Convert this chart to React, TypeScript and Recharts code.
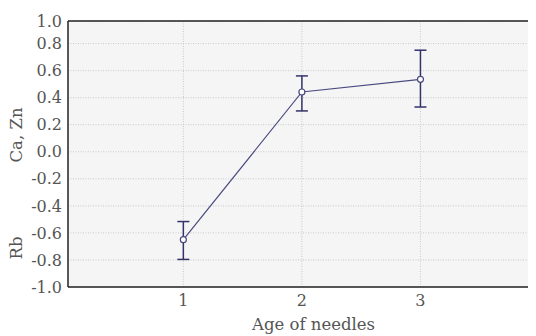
import React from "react";
import {
  LineChart,
  Line,
  XAxis,
  YAxis,
  CartesianGrid,
  ErrorBar,
  ReferenceLine,
  Customized,
} from "recharts";

// ---- data ----
const AGES = [1, 2, 3];
const MEANS = [-0.65, 0.442, 0.536];
const ERR_LOW = [0.146, 0.14, 0.205];
const ERR_HIGH = [0.134, 0.119, 0.215];

const X_TICKS = [1, 2, 3];
const Y_TOP = 0.967;
const Y_TICKS = [-1, -0.8, -0.6, -0.4, -0.2, 0, 0.2, 0.4, 0.6, 0.8, Y_TOP];
const Y_TICK_LABELS = ["-1.0", "-0.8", "-0.6", "-0.4", "-0.2", "0.0", "0.2", "0.4", "0.6", "0.8", "1.0"];

const X_LABEL = "Age of needles";
const Y_LABEL_TOP = "Ca, Zn";
const Y_LABEL_BOTTOM = "Rb";

const data = AGES.map((a, i) => ({
  age: a,
  value: MEANS[i],
  err: [ERR_LOW[i], ERR_HIGH[i]],
}));

const FONT = "'DejaVu Serif', serif";
const TEXT = "#555";
const LINE = "#4a4a80";
const ERRC = "#33336b";

// page coords minus the 8px body margin
const AxisTitles = () => (
  <g fontFamily={FONT} fontSize={16.5} fill={TEXT}>
    <text x={305.5} y={322} textAnchor="middle">
      {X_LABEL}
    </text>
    <text textAnchor="middle" transform="translate(14 127) rotate(-90)">
      {Y_LABEL_TOP}
    </text>
    <text textAnchor="middle" transform="translate(14 240) rotate(-90)">
      {Y_LABEL_BOTTOM}
    </text>
  </g>
);

const fmtY = (v: number) => {
  const i = Y_TICKS.findIndex((t) => Math.abs(t - v) < 1e-6);
  return i >= 0 ? Y_TICK_LABELS[i] : String(v);
};

export default function App() {
  return (
    <div style={{ width: 528, overflow: "hidden" }}>
      <LineChart
        width={531}
        height={328}
        data={data}
        margin={{ top: 13, right: 0, bottom: 0, left: 0 }}
      >
        <CartesianGrid
          fill="#f5f5f5"
          stroke="#c8c8c8"
          strokeDasharray="1 1.5"
          horizontalValues={Y_TICKS}
          verticalValues={X_TICKS}
        />
        <XAxis
          dataKey="age"
          type="number"
          domain={[0.027, 4]}
          ticks={X_TICKS}
          allowDataOverflow
          tickLine={false}
          axisLine={{ stroke: "#222", strokeWidth: 1.5 }}
          tick={{ fill: TEXT, fontFamily: FONT, fontSize: 16 }}
          height={49}
        />
        <YAxis
          type="number"
          domain={[-1, Y_TOP]}
          ticks={Y_TICKS}
          allowDataOverflow
          interval={0}
          tickFormatter={fmtY}
          tickLine={false}
          tickSize={4}
          axisLine={{ stroke: "#222", strokeWidth: 1.5 }}
          tick={{ fill: TEXT, fontFamily: FONT, fontSize: 16 }}
          width={60}
        />
        <ReferenceLine y={Y_TOP} stroke="#222" strokeWidth={1.5} />
        <Line
          dataKey="value"
          stroke={LINE}
          strokeWidth={1.2}
          isAnimationActive={false}
          dot={{ r: 3, fill: "#fff", stroke: LINE, strokeWidth: 1.2 }}
          activeDot={false}
        >
          <ErrorBar
            dataKey="err"
            width={6}
            stroke={ERRC}
            strokeWidth={1.5}
            direction="y"
            isAnimationActive={false}
          />
        </Line>
        <Customized component={AxisTitles} />
      </LineChart>
    </div>
  );
}
